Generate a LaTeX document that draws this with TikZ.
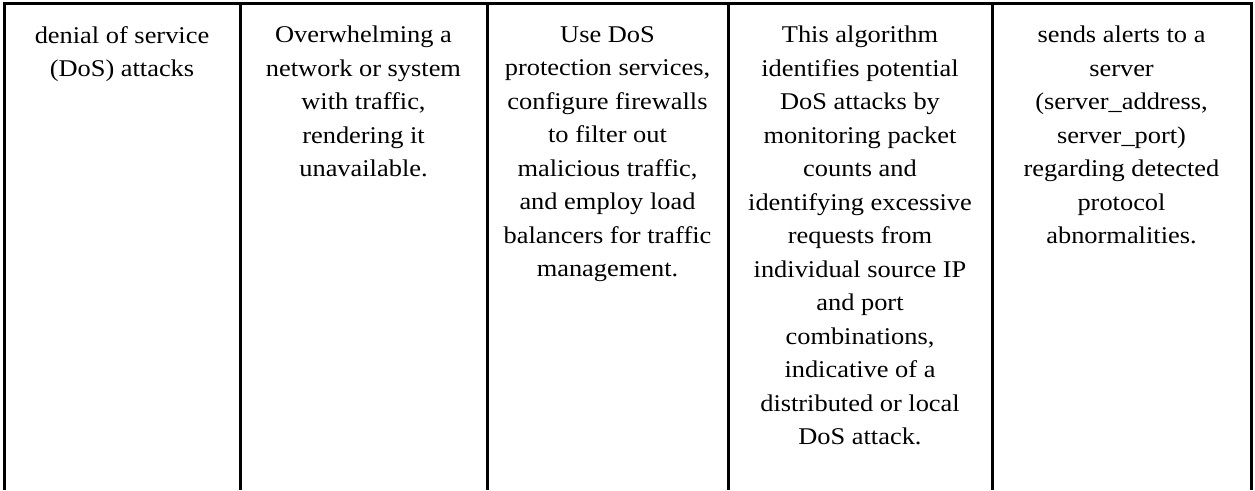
\documentclass[tikz,border=0pt]{standalone}
\usepackage{fontspec}
\setmainfont{Liberation Serif}
\begin{document}
\begin{tikzpicture}[x=1pt,y=1pt,
  rule/.style={line width=3pt,black},
  cell/.style={anchor=north,inner sep=0pt,align=center,xscale=1.1,
    font=\fontsize{24}{33.5}\selectfont,execute at begin node=\strut}]
\useasboundingbox (0,0) rectangle (1255,490);
% column borders
\coordinate (c0) at (4,486);
\coordinate (c1) at (240,486);
\coordinate (c2) at (487,486);
\coordinate (c3) at (728,486);
\coordinate (c4) at (992,486);
\coordinate (c5) at (1251,486);
\draw[rule] ([xshift=-1.5pt]c0) -- ([xshift=1.5pt]c5);
\foreach \c in {c0,c1,c2,c3,c4,c5}
  \draw[rule] (\c) -- (\c |- 0,0);
% cell texts
\node[cell] (t1) at (122,464) {denial of service\\(DoS) attacks};
\node[cell] (t2) at (363.5,464) {Overwhelming a\\network or system\\with traffic,\\rendering it\\unavailable.};
\node[cell] (t3) at (607.5,464) {Use DoS\\protection services,\\configure firewalls\\to filter out\\malicious traffic,\\and employ load\\balancers for traffic\\management.};
\node[cell] (t4) at (860,464) {This algorithm\\identifies potential\\DoS attacks by\\monitoring packet\\counts and\\identifying excessive\\requests from\\individual source IP\\and port\\combinations,\\indicative of a\\distributed or local\\DoS attack.};
\node[cell] (t5) at (1121.5,464) {sends alerts to a\\server\\(server\_address,\\server\_port)\\regarding detected\\protocol\\abnormalities.};
\end{tikzpicture}
\end{document}
